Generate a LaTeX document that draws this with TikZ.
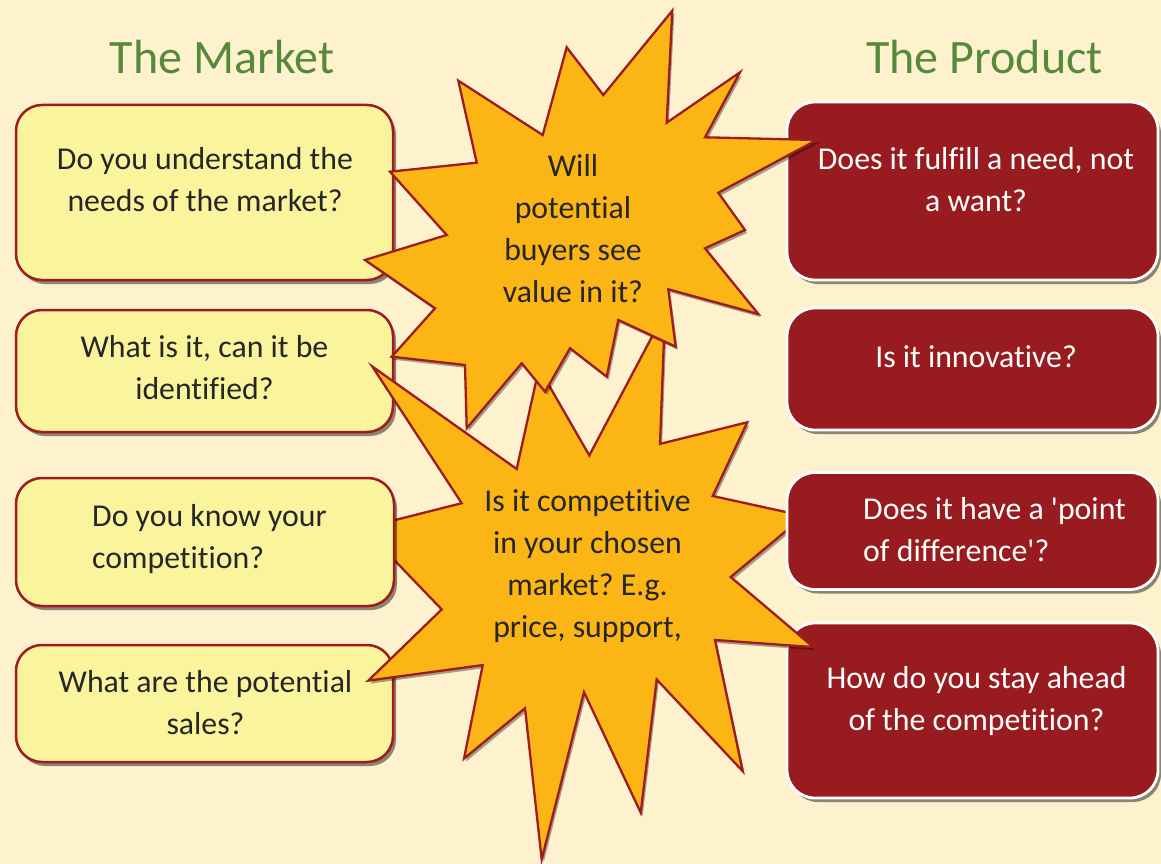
\documentclass[tikz,border=0pt]{standalone}
\usepackage{fontspec}
\setmainfont{Carlito}[Ligatures=NoCommon]
\usetikzlibrary{shadows}
\frenchspacing
\definecolor{bgc}{HTML}{FEF1CD}
\definecolor{lyel}{HTML}{FAF49D}
\definecolor{dred}{HTML}{9E1B20}
\definecolor{rfill}{HTML}{981B1F}
\definecolor{starc}{HTML}{FBB515}
\definecolor{tdark}{HTML}{262626}
\definecolor{tgreen}{HTML}{558A3B}
\tikzset{
  bshadow/.style={drop shadow={shadow xshift=3pt,shadow yshift=-4pt,opacity=0.45,fill=black}},
  mbox/.style={draw=dred,line width=2.5pt,fill=lyel,rounded corners=26pt,inner sep=0pt,outer sep=0pt,bshadow},
  pbox/.style={draw=white,line width=2.8pt,fill=rfill,rounded corners=28pt,inner sep=0pt,outer sep=0pt,bshadow},
  startype/.style={draw=dred,line width=2.3pt,fill=starc,line join=miter,
    drop shadow={shadow xshift=2pt,shadow yshift=-3pt,opacity=0.35,fill=black}},
  btxt/.style={align=center,inner sep=0pt,font=\fontsize{31.8}{42}\selectfont\frenchspacing,text=tdark},
  wtxt/.style={btxt,text=white},
  ttl/.style={inner sep=0pt,anchor=base,font=\fontsize{48}{56}\selectfont,text=tgreen}
}
\begin{document}
\begin{tikzpicture}[x=1pt,y=-1pt]
\useasboundingbox (0,0) rectangle (1161,864);
\fill[bgc] (0,0) rectangle (1161,864);

% titles
\node[ttl] (tmk) at (222,74) {The Market};
\node[ttl] (tpr) at (984.5,74) {The Product};

% boxes below the stars
\node[mbox,minimum width=377pt,minimum height=175pt] (m1) at (204.5,192.5) {};
\node[btxt] (tm1) at (205,182.5) {\strut Do you understand the\\\strut needs of the market?};
\node[mbox,minimum width=377pt,minimum height=122pt] (m2) at (204.5,371) {};
\node[btxt] (tm2) at (204.5,370) {\strut What is it, can it be\\\strut identified?};
\node[mbox,minimum width=377pt,minimum height=117pt] (m4) at (204.5,703.5) {};
\node[btxt] (tm4) at (205.5,705) {\strut What are the potential\\\strut sales?};

\node[pbox,minimum width=371pt,minimum height=178pt] (p1) at (972.5,191) {};
\node[wtxt] (tp1) at (976,182.5) {\strut Does it fulfill a need, not\\\strut a want?};
\node[pbox,minimum width=371pt,minimum height=122pt] (p2) at (972.5,369) {};
\node[wtxt] (tp2) at (976,359.5) {\strut Is it innovative?};
\node[pbox,minimum width=371pt,minimum height=175pt] (p4) at (972.5,710.5) {};
\node[wtxt] (tp4) at (976.5,701.5) {\strut How do you stay ahead\\\strut of the competition?};

% lower star
\filldraw[startype] (372.3,366.5) -- (516.7,469) -- (539,368) -- (589.3,455.4) -- (665,312)
  -- (660,443.9) -- (747.3,422.3) -- (712.7,496) -- (804,516) -- (730.7,577)
  -- (813.3,647.1) -- (715,640) -- (742.7,771.2) -- (656.7,679.5) -- (640.7,812.6)
  -- (584,692.1) -- (541.7,859.4) -- (525,708.3) -- (464,758.6) -- (482.7,665.1)
  -- (368.3,680.6) -- (441.7,609.4) -- (363.5,528) -- (461.7,503.2) -- cycle;
\node[btxt] (ts2) at (587.5,566.5) {\strut Is it competitive\\\strut in your chosen\\\strut market? E.g.\\\strut price, support,};

% boxes above the lower star
\node[mbox,minimum width=378pt,minimum height=128pt] (m3) at (205,542) {};
\node[btxt,align=left,anchor=west] (tm3) at (92,539) {\strut Do you know your\\\strut competition?};
\node[pbox,minimum width=371pt,minimum height=117pt] (p3) at (972.5,531) {};
\node[wtxt,align=left,anchor=west] (tp3) at (863,532.5) {\strut Does it have a \textquotesingle point\\\strut of difference\textquotesingle?};

% upper star
\filldraw[startype] (672.3,10.7) -- (666.7,122.7) -- (740,72.3) -- (705,137.3) -- (816.7,140)
  -- (718.3,192.7) -- (745,230) -- (705,248.3) -- (758.3,314) -- (668.3,289.3)
  -- (675.7,346.7) -- (618.3,320) -- (606.7,376.7) -- (570,348.3) -- (545,391.7)
  -- (521.7,363.3) -- (466.7,428.3) -- (465,365) -- (391.7,356.7) -- (435,308.3)
  -- (365,260) -- (446.7,235) -- (390,171.7) -- (476.7,162.7) -- (458.3,80.7)
  -- (542.7,135) -- (566.7,47.3) -- (603.3,95) -- cycle;
\node[btxt] (ts1) at (573,231.5) {\strut Will\\\strut potential\\\strut buyers see\\\strut value in it?};
\end{tikzpicture}
\end{document}
